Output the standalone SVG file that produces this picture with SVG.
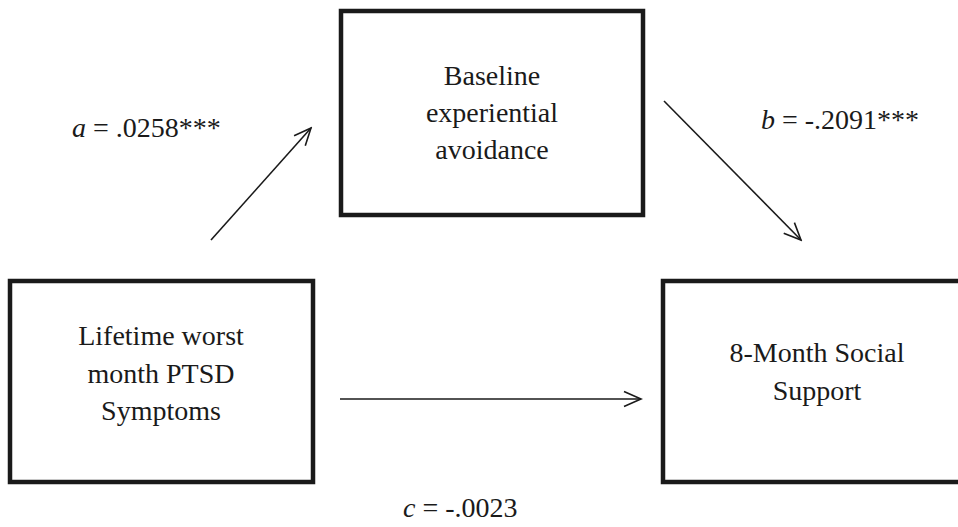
<svg xmlns="http://www.w3.org/2000/svg" width="958" height="527" viewBox="0 0 958 527">
<style>
.box{fill:#fff;stroke:#1a1a1a;stroke-width:4.5}
.t{font-family:"Liberation Serif","Times New Roman",serif;font-size:28px;fill:#1a1a1a;text-anchor:middle}
.lbl{font-family:"Liberation Serif","Times New Roman",serif;font-size:28px;fill:#1a1a1a}
.edge{stroke:#1a1a1a;stroke-width:1.6;fill:none;marker-end:url(#ah)}
</style>
<defs>
<marker id="ah" markerUnits="userSpaceOnUse" viewBox="0 0 20 18" refX="18" refY="9" markerWidth="20" markerHeight="18" orient="auto">
<path d="M1,1.5 L18,9 L1,16.5" fill="none" stroke="#1a1a1a" stroke-width="1.6"/>
</marker>
</defs>
<rect width="958" height="527" fill="#fff"/>
<g id="mediator">
<rect class="box" x="341" y="11" width="302" height="204"/>
<text class="t" x="492" y="85">Baseline</text>
<text class="t" x="492" y="122">experiential</text>
<text class="t" x="492" y="159">avoidance</text>
</g>
<g id="predictor">
<rect class="box" x="10" y="281" width="303" height="201"/>
<text class="t" x="161" y="345">Lifetime worst</text>
<text class="t" x="161" y="383">month PTSD</text>
<text class="t" x="161" y="420">Symptoms</text>
</g>
<g id="outcome">
<rect class="box" x="663" y="281" width="310" height="201"/>
<text class="t" x="817" y="362">8-Month Social</text>
<text class="t" x="817" y="400">Support</text>
</g>
<g id="connectors">
<line class="edge" x1="211" y1="240" x2="311" y2="128"/>
<line class="edge" x1="664" y1="101" x2="801" y2="240"/>
<line class="edge" x1="340" y1="399" x2="641" y2="399"/>
</g>
<g id="labels">
<text class="lbl" x="72" y="137"><tspan font-style="italic">a</tspan> = .0258***</text>
<text class="lbl" x="761" y="129"><tspan font-style="italic">b</tspan> = -.2091***</text>
<text class="lbl" x="403" y="517"><tspan font-style="italic">c</tspan> = -.0023</text>
</g>
</svg>
